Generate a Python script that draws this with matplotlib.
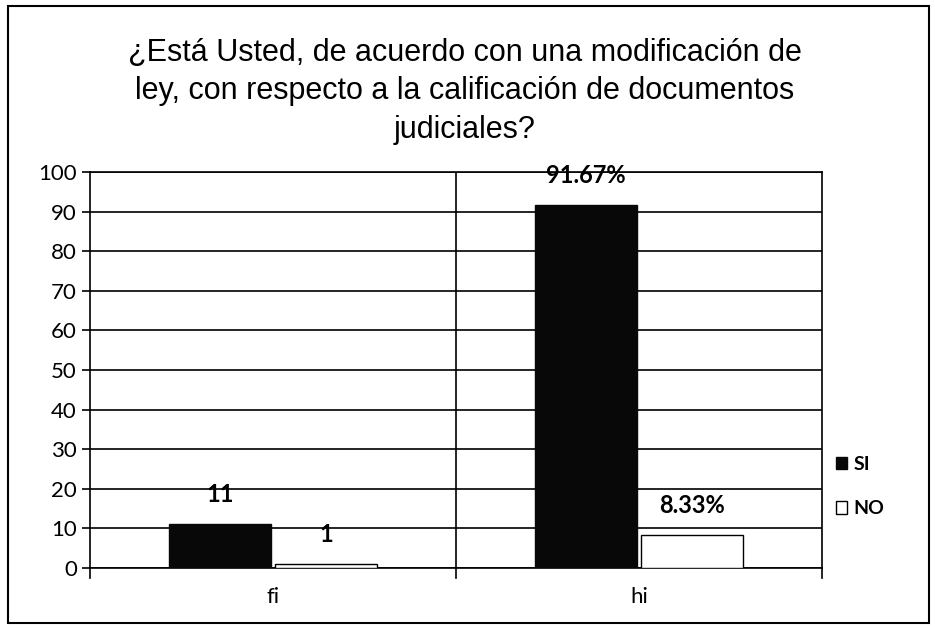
import matplotlib
matplotlib.use("Agg")
import matplotlib.pyplot as plt
from matplotlib.patches import Rectangle
import numpy as np

# datos
categorias = ["fi", "hi"]
si_vals = [11, 91.67]
no_vals = [1, 8.33]
si_labels = ["11", "91.67%"]
no_labels = ["1", "8.33%"]
yticks = list(range(0, 101, 10))

titulo = ("¿Está Usted, de acuerdo con una modificación de\n"
          "ley, con respecto a la calificación de documentos\n"
          "judiciales?")

fig = plt.figure(figsize=(9.35, 6.28), dpi=100)
ax = fig.add_axes([0.0963, 0.0955, 0.783, 0.6305])

x = np.arange(len(categorias))
w = 0.28
b1 = ax.bar(x - w / 2 - 0.005, si_vals, w, color="#080808", edgecolor="#080808", zorder=3)
b2 = ax.bar(x + w / 2 + 0.005, no_vals, w, color="white", edgecolor="black", linewidth=1, zorder=3)

for rect, lab in zip(b1, si_labels):
    ax.annotate(lab, (rect.get_x() + rect.get_width() / 2, rect.get_height()),
                xytext=(0, 13), textcoords="offset points", ha="center", va="bottom",
                fontsize=17, fontweight="bold", family=["Lato", "DejaVu Sans"])
for rect, lab in zip(b2, no_labels):
    ax.annotate(lab, (rect.get_x() + rect.get_width() / 2, rect.get_height()),
                xytext=(0, 13), textcoords="offset points", ha="center", va="bottom",
                fontsize=17, fontweight="bold", family=["Lato", "DejaVu Sans"])

ax.set_xlim(-0.5, 1.5)
ax.set_ylim(0, 100)
ax.set_yticks(yticks)
ax.set_xticks(x)
ax.set_xticklabels(categorias)
ax.tick_params(axis="y", labelsize=16, length=6, width=1.2, color="black", direction="out")
ax.tick_params(axis="x", labelsize=16, length=0, pad=14)
for t in ax.get_xticklabels() + ax.get_yticklabels():
    t.set_family(["Lato", "DejaVu Sans"])

ax.yaxis.grid(True, color="black", linewidth=1.2, zorder=0)
ax.axvline(0.5, color="black", linewidth=1.2, zorder=1)
ax.set_axisbelow(True)
for s in ax.spines.values():
    s.set_color("black")
    s.set_linewidth(1.2)
# marcas en el eje de categorías
for xv in [-0.5, 0.5, 1.5]:
    ax.plot([xv, xv], [0, -2.5], color="black", linewidth=1.2, clip_on=False)

fig.text(0.497, 0.94, titulo, ha="center", va="top", fontsize=22,
         family=["Liberation Sans", "DejaVu Sans"], linespacing=1.38)

# leyenda
handles = [Rectangle((0, 0), 1, 1, facecolor="#080808", edgecolor="#080808"),
           Rectangle((0, 0), 1, 1, facecolor="white", edgecolor="black")]
leg = fig.legend(handles, ["SI", "NO"], loc="center left", bbox_to_anchor=(0.875, 0.225),
                 frameon=False, handlelength=0.6, handleheight=0.6, handletextpad=0.3,
                 labelspacing=1.4, prop={"family": ["Lato", "DejaVu Sans"], "weight": "bold", "size": 14})

# borde exterior
fig.add_artist(Rectangle((0.009, 0.008), 0.985, 0.983, transform=fig.transFigure,
                         fill=False, edgecolor="black", linewidth=1.5))

fig.savefig("out.png", dpi=100)
